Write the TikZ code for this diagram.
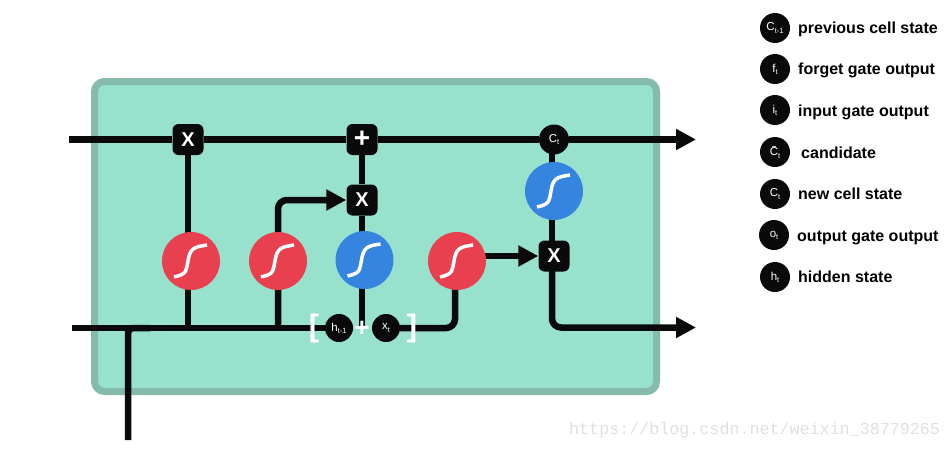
\documentclass[tikz,border=0pt]{standalone}
\usepackage{fontspec}
\setmainfont{Liberation Sans}
\newfontfamily\markfont{Liberation Mono}
\usetikzlibrary{arrows.meta,backgrounds}

\definecolor{cellfill}{HTML}{98E1CD}
\definecolor{celledge}{HTML}{85BBAA}
\definecolor{redsig}{HTML}{E8404E}
\definecolor{bluesig}{HTML}{3585E0}
\definecolor{wire}{HTML}{0A0A0A}

\tikzset{
  gate/.style={rectangle,rounded corners=6pt,fill=wire,text=white,minimum size=31pt,inner sep=0pt,font=\fontsize{20}{20}\bfseries},
  dot/.style={circle,fill=wire,text=white,minimum size=#1,inner sep=0pt,font=\fontsize{11.5}{12}\selectfont},
  dot/.default=30pt,
  sig/.style={circle,fill=#1,minimum size=58pt,inner sep=0pt},
  line/.style={draw=wire,line width=6.5pt},
  arrowline/.style={line,-{Triangle[length=20pt,width=20pt]}},
  curve/.style={draw=white,line width=3.5pt},
  legend/.style={anchor=base west,inner sep=0pt,font=\fontsize{16}{16}\bfseries}
}
\newcommand{\sigcurve}[1]{\draw[curve,shift={(#1)}] (-17,16) .. controls (-3,13) and (-5,9) .. (-3,0) .. controls (-1,-13) and (3,-14) .. (16,-16);}
\newcommand{\dotlab}[2]{#1\raisebox{-0.35ex}{\fontsize{7.5}{8}\selectfont #2}}

\begin{document}
\begin{tikzpicture}[x=1pt,y=-1pt]
\useasboundingbox (0,0) rectangle (950,450);

% Gates on the cell state
\node[gate] (forget) at (188,139.5) {X};
\node[gate,font=\fontsize{28}{28}\bfseries] (add) at (362,139.5) {\raisebox{-2pt}{+}};
\node[gate] (mult) at (362,200) {X};
\node[gate] (outmult) at (554,256) {X};
\node[dot] (ct) at (554,139.5) {\dotlab{C}{t}};

% Sigmoid layers
\node[sig=redsig] (sigf) at (191,261) {};
\node[sig=redsig] (sigi) at (278,261) {};
\node[sig=bluesig] (sigc) at (364.5,260) {};
\node[sig=redsig] (sigo) at (457,261) {};
\node[sig=bluesig] (sigh) at (554,191) {};
\sigcurve{sigf}
\sigcurve{sigi}
\sigcurve{sigc}
\sigcurve{sigo}
\sigcurve{sigh}

% Inputs
\node[dot=28pt] (hprev) at (339,328) {\dotlab{h}{t-1}};
\node[dot=28pt] (xt) at (386,328) {\dotlab{x}{t}};
\node[text=white,inner sep=0pt,font=\fontsize{26}{26}\bfseries] (plus) at (362,329) {+};
\node[text=white,inner sep=0pt,font=\fontsize{31}{31}\bfseries] (open) at (314,328) {[};
\node[text=white,inner sep=0pt,font=\fontsize{31}{31}\bfseries] (close) at (412,328) {]};

% Free ends
\coordinate (topin) at (69,139.5);
\coordinate (topout) at (696,139.5);
\coordinate (botin) at (72,328);
\coordinate (botout) at (696,327.5);
\coordinate (input) at (128,440);

% Wires go under the nodes
\begin{scope}[on background layer]
\draw[draw=celledge,fill=cellfill,line width=7pt,rounded corners=10pt] (94.5,81.5) rectangle (656.5,391.5);
\draw[line] (topin) -- (forget) -- (add) -- (ct);
\draw[arrowline] (ct) -- (topout);
\draw[line] (botin) -- (hprev);
\draw[line,rounded corners=5pt] (input) -- (128,328) -- (150,328);
\draw[line] (forget) -- (188,328);
\draw[arrowline,rounded corners=9pt] (278,328) -- (278,200) -- (mult);
\draw[line] (add) -- (mult);
\draw[line] (mult) -- (mult |- sigc);
\draw[line] (mult |- sigc) -- (362,326);
\draw[line,rounded corners=9pt] (xt) -- (455,328) -- (455,261);
\draw[arrowline] (sigo.center |- outmult) -- (outmult);
\draw[line] (552,139.5) -- (552,256);
\draw[arrowline,rounded corners=9pt] (552,256) -- (552,327.5) -- (botout);
\end{scope}

% Legend
\node[dot] (leg1) at (775,28) {\dotlab{C}{t-1}};
\node[legend] (txt1) at (798,33) {previous cell state};
\node[dot] (leg2) at (775,69) {\dotlab{f}{t}};
\node[legend] (txt2) at (798,74) {forget gate output};
\node[dot] (leg3) at (775,110) {\dotlab{i}{t}};
\node[legend] (txt3) at (798,116) {input gate output};
\node[dot] (leg4) at (775,152) {\dotlab{\~C}{t}};
\node[legend] (txt4) at (801,158) {candidate};
\node[dot] (leg5) at (775,194) {\dotlab{C}{t}};
\node[legend] (txt5) at (798,199) {new cell state};
\node[dot] (leg6) at (774,235) {\dotlab{o}{t}};
\node[legend] (txt6) at (797,241) {output gate output};
\node[dot] (leg7) at (775,277) {\dotlab{h}{t}};
\node[legend] (txt7) at (798,282) {hidden state};

% Watermark
\node[anchor=west,inner sep=0pt,text=black!12,font=\markfont\fontsize{16.7}{17}\selectfont] (mark) at (569,430) {https://blog.csdn.net/weixin\_38779265};
\end{tikzpicture}
\end{document}
